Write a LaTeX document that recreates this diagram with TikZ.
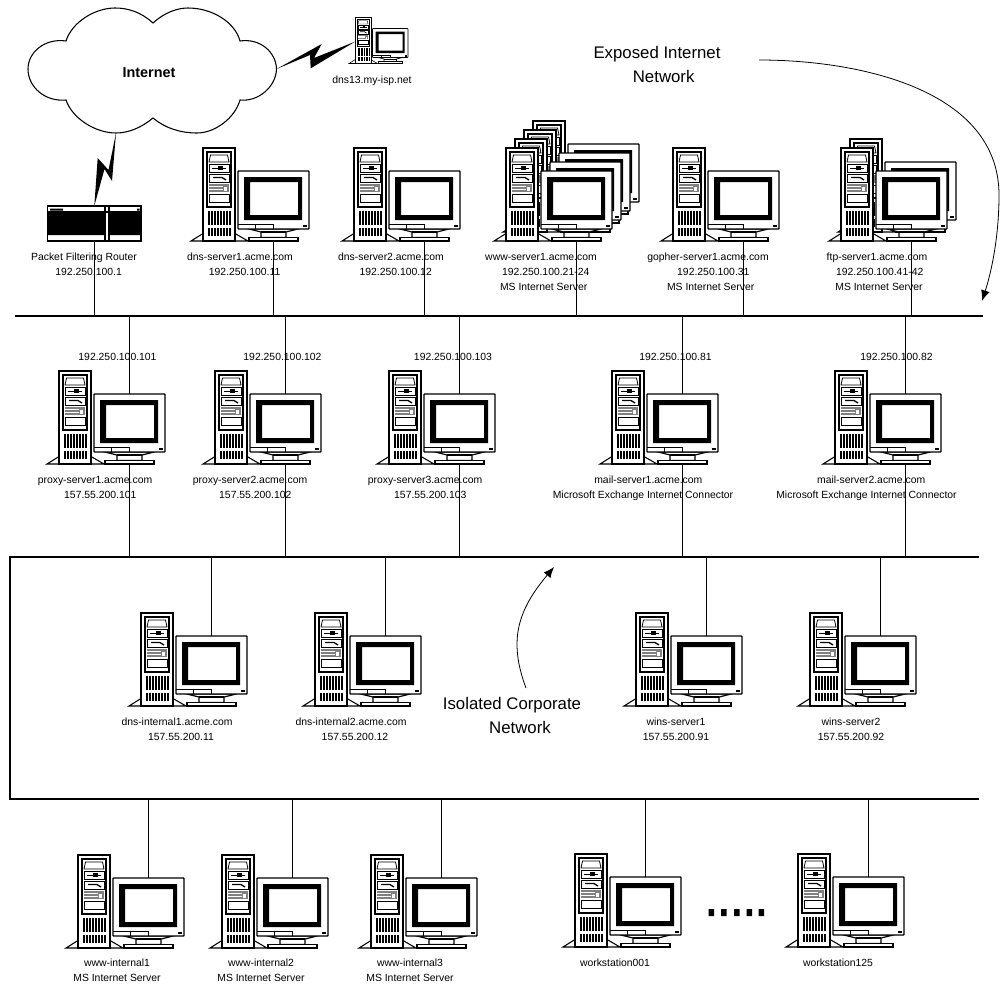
\documentclass[tikz,border=0pt]{standalone}
\usepackage{fontspec}
\setmainfont{Liberation Sans}
\usetikzlibrary{arrows.meta,calc}
\newcommand{\lsp}[1]{\hspace*{#1}}
\newcommand{\srvk}{1}
\newcommand{\srvon}{1.5pt}
\newcommand{\srvoff}{0.75pt}
\tikzset{
  wire/.style={line width=0.75pt},
  bus/.style={line width=1.6pt},
  hint/.style={line width=0.6pt,-{Latex[length=8pt,width=6.5pt]}},
  lbl/.style={font={\fontsize{7.8}{11.1}\selectfont},align=center,inner sep=0pt,anchor=north},
  big/.style={font={\fontsize{12.6}{18}\selectfont},align=center,inner sep=0pt,anchor=north},
  srv/.pic={
    %% tower
    \draw[line width=\srvk*0.8pt,fill=white] (-12,93) -- (0,85.5) -- (32,85.5) -- (45,93) -- cycle;
    \draw[line width=\srvk*0.9pt,fill=white] (0,0) rectangle (32,93);
    \draw[line width=\srvk*1.1pt] (4,4) rectangle (28,59);
    \draw[line width=\srvk*0.6pt] (6,14) -- (7.5,7) -- (24.5,7) -- (26,14) -- cycle;
    \draw[line width=\srvk*0.6pt] (6,16) rectangle (26,24);
    \draw[line width=\srvk*0.6pt] (9,20) -- (23,20);
    \fill (15,18) rectangle (20,22);
    \draw[line width=\srvk*0.6pt] (6,26) rectangle (26,34);
    \draw[line width=\srvk*1pt] (10,29.5) -- (19,29.5) -- (23,32);
    \fill[gray] (6,36) rectangle (26,43.5);
    \fill[white] (21,39) rectangle (24,43);
    \draw[line width=\srvk*0.5pt,white] (6,38.5) -- (20,38.5) (6,41) -- (20,41);
    \draw[line width=\srvk*0.6pt] (6,46) rectangle (26,54);
    \draw[line width=\srvk*10.5pt,dash pattern=on \srvon off \srvoff] (5,70) -- (29,70);
    \draw[line width=\srvk*6pt,dash pattern=on \srvon off \srvoff] (5,84) -- (29,84);
    %% monitor
    \draw[line width=\srvk*0.9pt,fill=white] (46,81) -- (58,84) -- (58,89.5) -- (83,89.5) -- (83,84) -- (95,81) -- cycle;
    \draw[line width=\srvk*0.8pt] (58,84) -- (83,84);
    \draw[line width=\srvk*0.9pt,fill=white] (46,89.5) rectangle (95,93);
    \draw[line width=\srvk*1.1pt,fill=white,rounded corners=0.5pt] (35,23) rectangle (106,81);
    \fill[even odd rule] (41,29) rectangle (99,72) (47,34) rectangle (95,67);
    \draw[line width=\srvk*0.5pt] (35,76) -- (70,76) (52,76) -- (52,81) (70,76) -- (70,81);
    \fill (99.5,76.5) rectangle (103.5,79);
    \coordinate (-top) at (70,23);
    \coordinate (-base) at (70,93);
  }
}
\begin{document}
\begin{tikzpicture}[x=0.75pt,y=-0.75pt]
  \useasboundingbox (0,0) rectangle (1002,985);

  %% ── buses ──
  \coordinate (busAw) at (15,316);
  \coordinate (busAe) at (983,316);
  \coordinate (busBe) at (979,557);
  \coordinate (busBw) at (10,557);
  \coordinate (busCw) at (10,799);
  \coordinate (busCe) at (979,799);
  \draw[bus] (busAw) -- (busAe);
  \draw[bus] (busBe) -- (busBw) -- (busCw) -- (busCe);

  %% ── internet ──
  \coordinate (cloudS) at (116,133);
  \coordinate (cloudE) at (276.5,69);
  \draw[line width=0.8pt] (153,23) .. controls (165,12) and (178,8) .. (188,8)
    .. controls (212,8) and (235,22) .. (240,41)
    .. controls (260,38) and (276,52) .. (cloudE)
    .. controls (276,87) and (258,102) .. (240,100)
    .. controls (235,118) and (215,133) .. (197,133)
    .. controls (180,133) and (165,128) .. (153,118)
    .. controls (141,128) and (128,133) .. (cloudS)
    .. controls (95,133) and (72,118) .. (66,100)
    .. controls (45,102) and (28,87) .. (28,69)
    .. controls (28,52) and (45,38) .. (66,41)
    .. controls (72,22) and (95,8) .. (115,8)
    .. controls (128,8) and (141,12) .. (153,23) -- cycle;
  \node[font={\fontsize{10.8}{13}\selectfont\bfseries},inner sep=0pt] (inetlbl) at (149,73) {Internet};

  \begin{scope}
    \renewcommand{\srvk}{0.55}
    \renewcommand{\srvon}{0.8pt}
    \renewcommand{\srvoff}{0.4pt}
    \pic[scale=0.5] (dns13) at (355,17) {srv};
  \end{scope}
  \coordinate (dns13w) at (355,41.7);
  \node[lbl] (dns13lbl) at (372,76) {dns13.my-isp.net};

  %% ── router ──
  \coordinate (router-top) at (94.3,206);
  \coordinate (router-base) at (94.3,241);
  \draw[line width=1pt,fill=white] (47.5,206) rectangle (141,241);
  \fill (48,212) rectangle (105,235) (109,212) rectangle (140.5,235);
  \fill (50,208.5) rectangle (63,210.5) (137,208.5) rectangle (139.5,210.5);
  \draw[line width=0.8pt] (105,206) -- (105,241) (109,206) -- (109,241) (47.5,212) -- (141,212);
  \fill (cloudS) -- (112,181) -- (104.5,169) -- (router-top) -- (97.7,158) -- (108.5,170) -- cycle;
  \fill (cloudE) -- (321.7,44) -- (314,58) -- (dns13w) -- (310.7,68.3) -- (310,55) -- cycle;
  \draw[wire] (router-base) -- (router-base |- busAw);
  \node[lbl] (routerlbl) at (84,253) {Packet Filtering Router\\\lsp{7pt}192.250.100.1};

  %% ── exposed servers ──
  \pic (dns1) at (203,148) {srv};
  \pic (dns2) at (354,148) {srv};
  \pic (www4) at (533,121) {srv};
  \pic (www3) at (524,130) {srv};
  \pic (www2) at (515,139) {srv};
  \pic (www1) at (506,148) {srv};
  \pic (gopher) at (673,148) {srv};
  \pic (ftp2) at (850,139) {srv};
  \pic (ftp1) at (841,148) {srv};
  \draw[wire] (dns1-base) -- (dns1-base |- busAw);
  \draw[wire] (dns2-base) -- (dns2-base |- busAw);
  \draw[wire] (www1-base) -- (www1-base |- busAw);
  \draw[wire] (gopher-base) -- (gopher-base |- busAw);
  \draw[wire] (ftp1-base) -- (ftp1-base |- busAw);
  \node[lbl] (dns1lbl) at (240,253) {dns-server1.acme.com\\\lsp{7pt}192.250.100.11};
  \node[lbl] (dns2lbl) at (391,253) {dns-server2.acme.com\\\lsp{7pt}192.250.100.12};
  \node[lbl] (www1lbl) at (541,253) {www-server1.acme.com\\\lsp{7pt}192.250.100.21-24\\\lsp{4pt}MS Internet Server};
  \node[lbl] (gopherlbl) at (708,253) {gopher-server1.acme.com\\\lsp{8pt}192.250.100.31\\\lsp{4pt}MS Internet Server};
  \node[lbl] (ftp1lbl) at (877,253) {ftp-server1.acme.com\\\lsp{4pt}192.250.100.41-42\\\lsp{3pt}MS Internet Server};

  \node[big] (exposedlbl) at (657,46) {Exposed Internet\\\lsp{10pt}Network};
  \coordinate (exposedtail) at (759,60);
  \coordinate (exposedtip) at (982,301);
  \draw[hint] (exposedtail) .. controls (860,60) and (999,90) .. (999,195)
    .. controls (999,235) and (992,270) .. (exposedtip);

  %% ── dual homed servers ──
  \pic (proxy1) at (59,371) {srv};
  \pic (proxy2) at (215,371) {srv};
  \pic (proxy3) at (389,371) {srv};
  \pic (mail1) at (612,371) {srv};
  \pic (mail2) at (835,371) {srv};
  \draw[wire] (proxy1-top) -- (proxy1-top |- busAw);
  \draw[wire] (proxy2-top) -- (proxy2-top |- busAw);
  \draw[wire] (proxy3-top) -- (proxy3-top |- busAw);
  \draw[wire] (mail1-top) -- (mail1-top |- busAw);
  \draw[wire] (mail2-top) -- (mail2-top |- busAw);
  \draw[wire] (proxy1-base) -- (proxy1-base |- busBw);
  \draw[wire] (proxy2-base) -- (proxy2-base |- busBw);
  \draw[wire] (proxy3-base) -- (proxy3-base |- busBw);
  \draw[wire] (mail1-base) -- (mail1-base |- busBw);
  \draw[wire] (mail2-base) -- (mail2-base |- busBw);
  \node[lbl] (proxy1ext) at (117.5,353) {192.250.100.101};
  \node[lbl] (proxy2ext) at (282.5,353) {192.250.100.102};
  \node[lbl] (proxy3ext) at (453,353) {192.250.100.103};
  \node[lbl] (mail1ext) at (675.5,353) {192.250.100.81};
  \node[lbl] (mail2ext) at (896.5,353) {192.250.100.82};
  \node[lbl] (proxy1lbl) at (95,476) {proxy-server1.acme.com\\\lsp{8pt}157.55.200.101};
  \node[lbl] (proxy2lbl) at (250,476) {proxy-server2.acme.com\\\lsp{8pt}157.55.200.102};
  \node[lbl] (proxy3lbl) at (425,476) {proxy-server3.acme.com\\\lsp{8pt}157.55.200.103};
  \node[lbl] (mail1lbl) at (643,476) {\lsp{8pt}mail-server1.acme.com\\Microsoft Exchange Internet Connector};
  \node[lbl] (mail2lbl) at (866.5,476) {\lsp{7pt}mail-server2.acme.com\\Microsoft Exchange Internet Connector};

  %% ── isolated servers ──
  \pic (dnsint1) at (141,613) {srv};
  \pic (dnsint2) at (315,613) {srv};
  \pic (wins1) at (636,613) {srv};
  \pic (wins2) at (810,613) {srv};
  \draw[wire] (dnsint1-top) -- (dnsint1-top |- busBw);
  \draw[wire] (dnsint2-top) -- (dnsint2-top |- busBw);
  \draw[wire] (wins1-top) -- (wins1-top |- busBw);
  \draw[wire] (wins2-top) -- (wins2-top |- busBw);
  \node[lbl] (dnsint1lbl) at (177,718) {dns-internal1.acme.com\\\lsp{6pt}157.55.200.11};
  \node[lbl] (dnsint2lbl) at (351,718) {dns-internal2.acme.com\\\lsp{6pt}157.55.200.12};
  \node[lbl] (wins1lbl) at (676,718) {wins-server1\\157.55.200.91};
  \node[lbl] (wins2lbl) at (851,718) {wins-server2\\157.55.200.92};

  \node[big] (isolatedlbl) at (512,697) {Isolated Corporate\\\lsp{12pt}Network};
  \coordinate (isolatedtail) at (526,688);
  \coordinate (isolatedtip) at (554,567);
  \draw[hint] (isolatedtail) .. controls (508,640) and (518,610) .. (isolatedtip);

  %% ── internal machines ──
  \pic (wwwint1) at (78,855) {srv};
  \pic (wwwint2) at (222,855) {srv};
  \pic (wwwint3) at (371,855) {srv};
  \pic (wks1) at (575,854) {srv};
  \pic (wks125) at (798,854) {srv};
  \draw[wire] (wwwint1-top) -- (wwwint1-top |- busCw);
  \draw[wire] (wwwint2-top) -- (wwwint2-top |- busCw);
  \draw[wire] (wwwint3-top) -- (wwwint3-top |- busCw);
  \draw[wire] (wks1-top) -- (wks1-top |- busCw);
  \draw[wire] (wks125-top) -- (wks125-top |- busCw);
  \node[lbl] (wwwint1lbl) at (117,959) {www-internal1\\MS Internet Server};
  \node[lbl] (wwwint2lbl) at (261,959) {www-internal2\\MS Internet Server};
  \node[lbl] (wwwint3lbl) at (410,959) {www-internal3\\MS Internet Server};
  \node[lbl] (wks1lbl) at (615,959) {workstation001};
  \node[lbl] (wks125lbl) at (838,959) {workstation125};
  \fill (708.5,909) rectangle ++(5.5,7) (721,909) rectangle ++(5.5,7) (734,909) rectangle ++(5.5,7)
    (746.5,909) rectangle ++(5.5,7) (758.5,909) rectangle ++(5.5,7);
\end{tikzpicture}
\end{document}
